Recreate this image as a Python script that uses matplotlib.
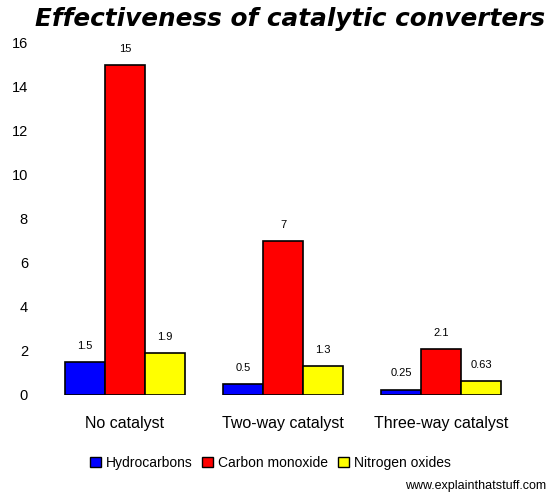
import numpy as np
import matplotlib.pyplot as plt
from matplotlib.patches import Patch

# Datos del grafico
categories = ["No catalyst", "Two-way catalyst", "Three-way catalyst"]
series_names = ["Hydrocarbons", "Carbon monoxide", "Nitrogen oxides"]
hydrocarbons = [1.5, 0.5, 0.25]
carbon_monoxide = [15, 7, 2.1]
nitrogen_oxides = [1.9, 1.3, 0.63]
value_labels = [["1.5", "0.5", "0.25"], ["15", "7", "2.1"], ["1.9", "1.3", "0.63"]]
colors = ["#0000ff", "#ff0000", "#ffff00"]
yticks = [0, 2, 4, 6, 8, 10, 12, 14, 16]

W, H = 547, 495
fig = plt.figure(figsize=(W / 100, H / 100), dpi=100)
ax = fig.add_axes([46 / W, (H - 395) / H, 474 / W, 352 / H])

x = np.arange(len(categories))
width = 0.253
series = [hydrocarbons, carbon_monoxide, nitrogen_oxides]
for i, vals in enumerate(series):
    pos = x + (i - 1) * width
    ax.bar(pos, vals, width, color=colors[i], edgecolor="black", linewidth=1.2)
    for p, v, lab in zip(pos, vals, value_labels[i]):
        ax.annotate(lab, (p, v), xytext=(0, 8), textcoords="offset points",
                    ha="center", va="bottom", fontsize=8, family="Liberation Sans")

ax.set_xlim(-0.5, 2.5)
ax.set_ylim(0, 16)
ax.set_yticks(yticks)
ax.set_yticklabels([str(t) for t in yticks], fontsize=10.5, family="Liberation Sans")
ax.set_xticks(x)
ax.set_xticklabels(categories, fontsize=11.5, family="Liberation Sans")
ax.tick_params(axis="y", length=0, pad=13)
ax.tick_params(axis="x", length=0, pad=15)
for s in ax.spines.values():
    s.set_visible(False)

fig.text(290 / W, 1 - 19 / H, "Effectiveness of catalytic converters",
         ha="center", va="center", fontsize=17.8, fontweight="bold", style="italic",
         family="DejaVu Sans")

handles = [Patch(facecolor=c, edgecolor="black", linewidth=1) for c in colors]
fig.legend(handles, series_names, loc="center", bbox_to_anchor=(270 / W, 1 - 463 / H),
           ncol=3, frameon=False, handlelength=0.8, handleheight=0.8,
           handletextpad=0.35, columnspacing=0.7, prop={"family": "Liberation Sans", "size": 10})

fig.text(546 / W, 1 - 486 / H, "www.explainthatstuff.com", ha="right", va="center",
         fontsize=9, family="Liberation Sans")

fig.savefig("out.png", dpi=100)
